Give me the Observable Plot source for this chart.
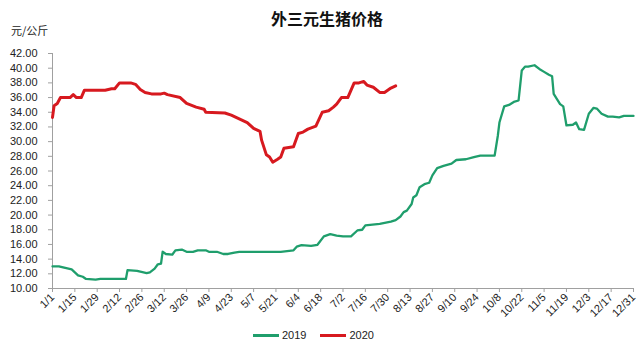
<!DOCTYPE html>
<html><head><meta charset="utf-8">
<script src="https://cdn.jsdelivr.net/npm/d3@7"></script>
<script src="https://cdn.jsdelivr.net/npm/@observablehq/plot@0.6"></script>
<style>
body{margin:0;background:#fff;}
#wrap{position:relative;width:640px;height:356px;overflow:hidden;background:#fff}
#title{position:absolute;left:0;width:654px;top:6px;text-align:center;font:bold 16px "Noto Sans CJK SC",sans-serif;color:#111;}
#unit{position:absolute;left:11px;top:22px;font:11px "Noto Sans CJK SC",sans-serif;color:#222;}
#legend{position:absolute;left:253px;top:329px;display:flex;align-items:center;font:11px "Liberation Sans",sans-serif;color:#222;}
#legend .sw{display:inline-block;width:26px;height:3px;margin-right:3px}
#legend .item{display:flex;align-items:center;margin-right:14px}
#chart{position:absolute;left:0;top:0}
</style></head>
<body>
<div id="wrap">
<div id="chart"></div>
<div id="title">外三元生猪价格</div>
<div id="unit">元/公斤</div>
<div id="legend"></div>
</div>
<script>
const seriesNames = ["2019", "2020"];
const seriesColors = ["#1f9e6c", "#d7191f"];

const dates2019 = ["01-01","01-05","01-09","01-13","01-15","01-17","01-20","01-22","01-28","01-31","02-16","02-17","02-23","03-01","03-03","03-06","03-08","03-10","03-11","03-13","03-17","03-19","03-23","03-26","03-30","04-02","04-07","04-09","04-14","04-18","04-21","04-25","04-28","05-24","06-01","06-03","06-06","06-12","06-16","06-20","06-24","06-28","07-02","07-07","07-11","07-14","07-16","07-25","08-01","08-04","08-07","08-09","08-11","08-14","08-15","08-17","08-19","08-22","08-25","08-27","08-30","09-03","09-08","09-11","09-17","09-22","09-26","10-05","10-07","10-08","10-11","10-14","10-17","10-20","10-22","10-24","10-26","10-30","11-02","11-05","11-08","11-10","11-11","11-15","11-17","11-19","11-23","11-25","11-27","11-30","12-03","12-06","12-08","12-11","12-15","12-18","12-22","12-25","12-31"];
const values2019 = [13.0,13.0,12.8,12.6,12.2,11.8,11.6,11.3,11.2,11.3,11.3,12.5,12.4,12.1,12.2,12.7,13.3,13.4,15.0,14.7,14.6,15.2,15.3,15.0,15.0,15.2,15.2,15.0,15.0,14.7,14.7,14.9,15.0,15.0,15.2,15.7,15.9,15.8,15.95,17.1,17.4,17.2,17.1,17.1,17.9,18.0,18.6,18.8,19.1,19.3,19.8,20.4,20.6,21.5,22.4,22.7,23.8,24.2,24.4,25.4,26.4,26.7,27.0,27.5,27.6,27.9,28.1,28.1,30.8,32.6,34.8,35.0,35.4,35.6,39.7,40.2,40.2,40.4,39.9,39.5,39.1,38.9,36.5,35.1,34.8,32.2,32.3,32.6,31.7,31.6,33.8,34.6,34.5,33.8,33.4,33.4,33.3,33.5,33.5];

const dates2020 = ["01-01","01-02","01-04","01-06","01-12","01-14","01-16","01-19","01-21","02-03","02-07","02-09","02-12","02-19","02-22","02-25","02-28","03-04","03-10","03-12","03-14","03-22","03-26","04-01","04-06","04-07","04-19","04-23","04-28","05-03","05-07","05-11","05-12","05-15","05-17","05-19","05-22","05-24","05-26","06-01","06-04","06-07","06-10","06-15","06-19","06-23","06-26","06-28","07-01","07-05","07-09","07-12","07-15","07-17","07-21","07-25","07-28","08-01","08-04"];
const values2020 = [33.3,34.9,35.2,36.0,36.0,36.4,36.0,36.0,37.0,37.0,37.2,37.2,38.0,38.0,37.8,37.1,36.7,36.5,36.5,36.6,36.4,36.0,35.2,34.7,34.4,34.0,33.9,33.6,33.1,32.6,31.8,31.4,30.2,28.2,27.9,27.2,27.6,27.9,29.1,29.3,31.1,31.3,31.7,32.1,34.0,34.2,34.7,35.1,36.0,36.0,38.0,38.0,38.2,37.7,37.4,36.7,36.7,37.3,37.6];

const xTickLabels = ["1/1","1/15","1/29","2/12","2/26","3/12","3/26","4/9","4/23","5/7","5/21","6/4","6/18","7/2","7/16","7/30","8/13","8/27","9/10","9/24","10/8","10/22","11/5","11/19","12/3","12/17","12/31"];
const yTicks = [10,12,14,16,18,20,22,24,26,28,30,32,34,36,38,40,42];

const parseMD = s => { const [m, d] = s.split("-").map(Number); return new Date(Date.UTC(2019, m - 1, d)); };
const parseTick = s => { const [m, d] = s.split("/").map(Number); return new Date(Date.UTC(2019, m - 1, d)); };
const xTicks = xTickLabels.map(parseTick);
const fmt = d => `${d.getUTCMonth() + 1}/${d.getUTCDate()}`;

const data2019 = dates2019.map((s, i) => ({date: parseMD(s), value: values2019[i]}));
const data2020 = dates2020.map((s, i) => ({date: parseMD(s), value: values2020[i]}));

const chart = Plot.plot({
  width: 640, height: 356,
  marginTop: 53, marginBottom: 68, marginLeft: 52, marginRight: 7,
  style: {fontSize: "11px", fontFamily: "'Liberation Sans', sans-serif", color: "#222", background: "transparent"},
  x: {type: "utc", domain: [xTicks[0], xTicks[xTicks.length - 1]]},
  y: {domain: [10, 42]},
  marks: [
    Plot.ruleX([xTicks[0]], {stroke: "#a0a0a0"}),
    Plot.ruleY([10], {stroke: "#a0a0a0"}),
    Plot.axisY({ticks: yTicks, tickFormat: d => d.toFixed(2), tickSize: 4, tickPadding: 11, label: null, stroke: "#a0a0a0"}),
    Plot.axisX({ticks: xTicks, tickFormat: fmt, tickRotate: -45, tickSize: 4, tickPadding: 3, label: null, stroke: "#a0a0a0"}),
    Plot.line(data2019, {x: "date", y: "value", stroke: seriesColors[0], strokeWidth: 2.3, curve: "linear"}),
    Plot.line(data2020, {x: "date", y: "value", stroke: seriesColors[1], strokeWidth: 3, curve: "linear"})
  ]
});
document.getElementById("chart").appendChild(chart);

const legend = document.getElementById("legend");
seriesNames.forEach((n, i) => {
  const it = document.createElement("div");
  it.className = "item";
  it.innerHTML = `<span class="sw" style="background:${seriesColors[i]}"></span><span>${n}</span>`;
  legend.appendChild(it);
});
</script>
</body></html>
